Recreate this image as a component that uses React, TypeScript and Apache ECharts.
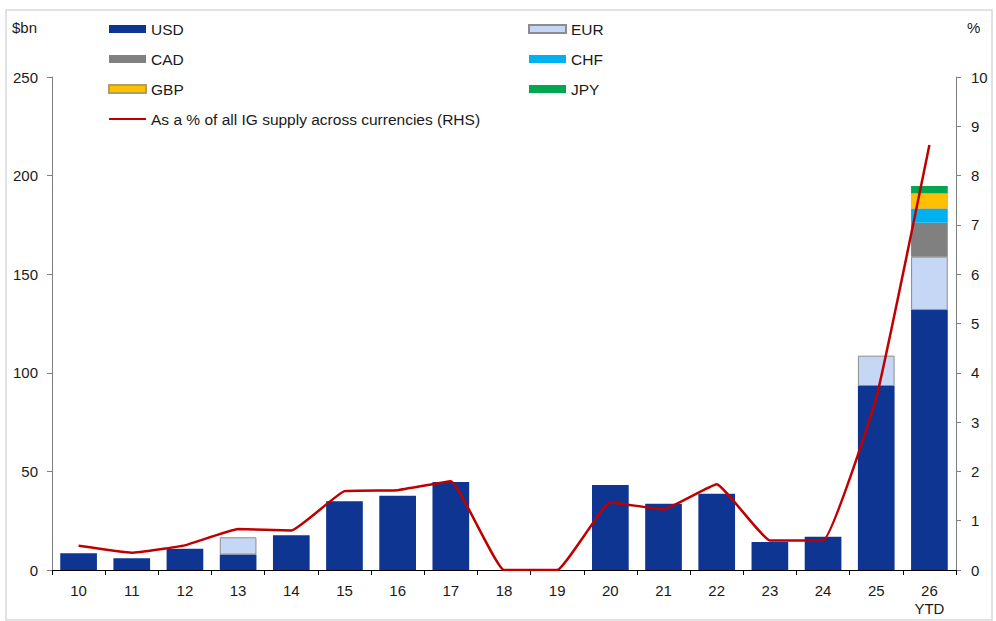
import React, { useEffect, useRef } from "react";
import * as echarts from "echarts";

const categories = ["10", "11", "12", "13", "14", "15", "16", "17", "18", "19", "20", "21", "22", "23", "24", "25", "26\nYTD"];
const usd = [8.5, 6, 10.8, 7.8, 17.6, 34.8, 37.7, 44.6, 0, 0, 43.1, 33.6, 38.7, 14.2, 16.9, 93.3, 131.8];
const eur = [0, 0, 0, 8.8, 0, 0, 0, 0, 0, 0, 0, 0, 0, 0, 0, 15.4, 27.1];
const cad = [0, 0, 0, 0, 0, 0, 0, 0, 0, 0, 0, 0, 0, 0, 0, 0, 17.2];
const chf = [0, 0, 0, 0, 0, 0, 0, 0, 0, 0, 0, 0, 0, 0, 0, 0, 7.1];
const gbp = [0, 0, 0, 0, 0, 0, 0, 0, 0, 0, 0, 0, 0, 0, 0, 0, 7.8];
const jpy = [0, 0, 0, 0, 0, 0, 0, 0, 0, 0, 0, 0, 0, 0, 0, 0, 3.7];
const share = [0.49, 0.35, 0.5, 0.83, 0.8, 1.6, 1.62, 1.8, 0, 0, 1.37, 1.23, 1.74, 0.6, 0.6, 3.49, 8.62];

const leftTicks = { min: 0, max: 250, interval: 50 };
const rightTicks = { min: 0, max: 10, interval: 1 };

const LINE_NAME = "As a % of all IG supply across currencies (RHS)";
const FONT = "Liberation Sans, Arial, sans-serif";
const TXT = "#1a1a1a";

export default function App() {
  const ref = useRef<HTMLDivElement>(null);
  useEffect(() => {
    document.body.style.margin = "0";
    const chart = echarts.init(ref.current!, null, { renderer: "svg" });
    const nz = (a: number[]) => a.map((v) => (v === 0 ? null : v));
    const barBase = {
      type: "bar",
      stack: "s",
      barCategoryGap: "31%",
      yAxisIndex: 0,
    };
    const legendText = { fontFamily: FONT, fontSize: 15.5, color: TXT, lineHeight: 16 };
    chart.setOption({
      animation: false,
      textStyle: { fontFamily: FONT },
      grid: { left: 52, right: 40, top: 77, bottom: 51 },
      legend: [
        {
          left: 108,
          top: 21,
          padding: 0,
          orient: "vertical",
          itemWidth: 37,
          itemHeight: 8,
          itemGap: 14,
          textStyle: legendText,
          data: [
            { name: "USD", icon: "rect" },
            { name: "CAD", icon: "rect" },
            { name: "GBP", icon: "rect" },
            { name: LINE_NAME, itemStyle: { opacity: 0 } },
          ],
        },
        {
          left: 528,
          top: 21,
          padding: 0,
          orient: "vertical",
          itemWidth: 37,
          itemHeight: 8,
          itemGap: 14,
          textStyle: legendText,
          data: [
            { name: "EUR", icon: "rect" },
            { name: "CHF", icon: "rect" },
            { name: "JPY", icon: "rect" },
          ],
        },
      ],
      xAxis: {
        type: "category",
        data: categories,
        axisLine: { lineStyle: { color: "#000", width: 1 } },
        axisTick: { show: true, length: 5, lineStyle: { color: "#000" } },
        axisLabel: { color: TXT, fontSize: 15, fontFamily: FONT, margin: 11, lineHeight: 18 },
      },
      yAxis: [
        {
          type: "value",
          ...leftTicks,
          axisLine: { show: true, lineStyle: { color: "#808080" } },
          axisTick: { show: true, length: 5, lineStyle: { color: "#808080" } },
          splitLine: { show: false },
          axisLabel: { color: TXT, fontSize: 15, fontFamily: FONT, margin: 14 },
        },
        {
          type: "value",
          position: "right",
          ...rightTicks,
          axisLine: { show: true, lineStyle: { color: "#808080" } },
          axisTick: { show: true, length: 5, lineStyle: { color: "#808080" } },
          splitLine: { show: false },
          axisLabel: { color: TXT, fontSize: 15, fontFamily: FONT, margin: 15 },
        },
      ],
      graphic: [
        { type: "rect", shape: { x: 6, y: 10, width: 986, height: 610 }, style: { fill: "none", stroke: "#d9d9d9", lineWidth: 1.5 }, silent: true, z: -10 },
        { type: "text", left: 12, top: 20, style: { text: "$bn", fontSize: 15, fontFamily: FONT, fill: TXT } },
        { type: "text", left: 967, top: 20, style: { text: "%", fontSize: 15, fontFamily: FONT, fill: TXT } },
      ],
      series: [
        { ...barBase, name: "USD", data: nz(usd), itemStyle: { color: "#0d3591" } },
        { ...barBase, name: "EUR", data: nz(eur), itemStyle: { color: "#c6d6f5", borderColor: "#8c8c8c", borderWidth: 1 } },
        { ...barBase, name: "CAD", data: nz(cad), itemStyle: { color: "#808080" } },
        { ...barBase, name: "CHF", data: nz(chf), itemStyle: { color: "#00b0f0" } },
        { ...barBase, name: "GBP", data: nz(gbp), itemStyle: { color: "#ffc000", borderColor: "#b0a060", borderWidth: 0.5 } },
        { ...barBase, name: "JPY", data: nz(jpy), itemStyle: { color: "#00a650" } },
        {
          type: "line",
          name: LINE_NAME,
          yAxisIndex: 1,
          data: share,
          symbol: "none",
          smooth: 0.1,
          lineStyle: { color: "#c00000", width: 2.5 },
          itemStyle: { color: "#c00000" },
          z: 5,
        },
      ],
    });
    return () => chart.dispose();
  }, []);
  return <div ref={ref} style={{ position: "absolute", left: 0, top: 0, width: 996, height: 621 }} />;
}
